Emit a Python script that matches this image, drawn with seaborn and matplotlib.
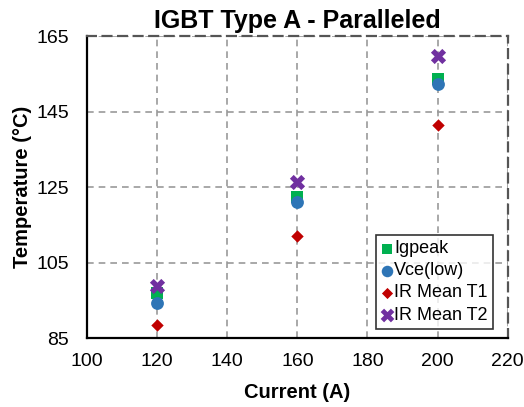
import matplotlib
matplotlib.use("Agg")
import matplotlib.pyplot as plt
import seaborn as sns
import pandas as pd

# Measured junction temperatures for paralleled IGBT Type A
current = [120, 160, 200]
igpeak = [96.8, 122.4, 153.6]
vce_low = [94.4, 121.0, 152.4]
ir_mean_t1 = [88.4, 112.0, 141.4]
ir_mean_t2 = [98.8, 126.4, 159.6]

series_names = ["Igpeak", "Vce(low)", "IR Mean T1", "IR Mean T2"]
series_values = [igpeak, vce_low, ir_mean_t1, ir_mean_t2]

x_ticks = [100, 120, 140, 160, 180, 200, 220]
y_ticks = [85, 105, 125, 145, 165]

rows = []
for name, vals in zip(series_names, series_values):
    for c, v in zip(current, vals):
        rows.append({"Current": c, "Temperature": v, "Series": name})
df = pd.DataFrame(rows)

sns.set_theme(style="white")
plt.rcParams["font.family"] = ["Liberation Sans", "DejaVu Sans"]
plt.rcParams["text.color"] = "black"
plt.rcParams["axes.labelcolor"] = "black"
plt.rcParams["xtick.color"] = "black"
plt.rcParams["ytick.color"] = "black"

palette = {"Igpeak": "#00B050", "Vce(low)": "#2E75B6",
           "IR Mean T1": "#C00000", "IR Mean T2": "#7030A0"}
markers = {"Igpeak": "s", "Vce(low)": "o", "IR Mean T1": "D", "IR Mean T2": "X"}
sizes = {"Igpeak": 75, "Vce(low)": 85, "IR Mean T1": 40, "IR Mean T2": 120}

fig = plt.figure(figsize=(5.24, 4.07), dpi=100)
ax = fig.add_axes([0.166, 0.1695, 0.803, 0.742])

for name in series_names:
    sub = df[df["Series"] == name]
    sns.scatterplot(data=sub, x="Current", y="Temperature", ax=ax,
                    color=palette[name], marker=markers[name], s=sizes[name],
                    linewidth=0, label=name, zorder=3)

ax.set_xlim(100, 220)
ax.set_ylim(85, 165)
ax.set_xticks(x_ticks)
ax.set_yticks(y_ticks)
ax.tick_params(axis="both", labelsize=14, direction="in", length=4,
               width=1.2, color="black")
ax.tick_params(axis="x", pad=11)
ax.tick_params(axis="y", pad=13)

ax.grid(True, color="#999999", linestyle=(0, (4, 3)), linewidth=1.2)
for side in ["left", "bottom"]:
    ax.spines[side].set_color("black")
    ax.spines[side].set_linewidth(1.6)
for side in ["top", "right"]:
    ax.spines[side].set_color("#555555")
    ax.spines[side].set_linewidth(1.6)
    ax.spines[side].set_linestyle((0, (4, 3)))

ax.set_xlabel("Current (A)", fontsize=14.5, fontweight="bold", labelpad=9)
ax.set_ylabel("Temperature (°C)", fontsize=14.5, fontweight="bold", labelpad=3)
ax.set_title("IGBT Type A - Paralleled", fontsize=18, fontweight="bold", pad=6)

leg = ax.legend(loc="lower right", bbox_to_anchor=(0.965, 0.03), fontsize=13,
                frameon=True, fancybox=False, handlelength=0.6,
                handletextpad=0.1, borderpad=0.3, labelspacing=0.28,
                borderaxespad=0, markerscale=0.9)
leg.get_frame().set_edgecolor("black")
leg.get_frame().set_linewidth(1.2)

fig.savefig("out.png", dpi=100)
